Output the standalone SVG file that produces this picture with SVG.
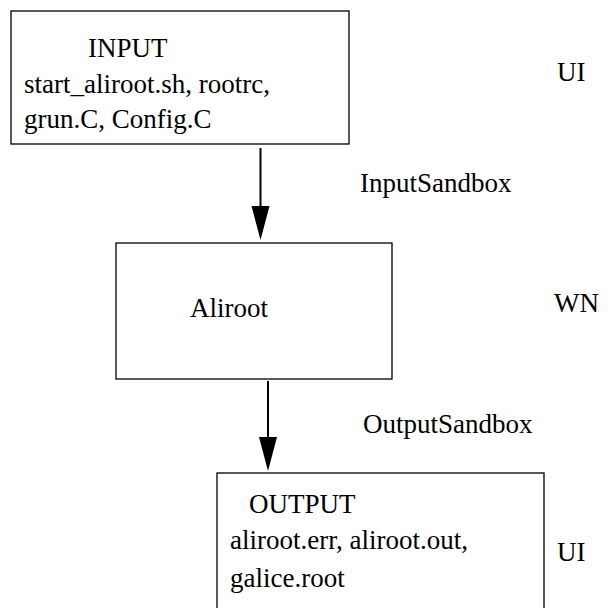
<svg xmlns="http://www.w3.org/2000/svg" width="610" height="608" viewBox="0 0 610 608" font-family="'Liberation Serif', 'Times New Roman', serif" font-size="27">
<defs>
<style>
.box{fill:#fff;stroke:#000;stroke-width:1.3}
text{font-family:'Liberation Serif','Times New Roman',serif;font-size:27px;fill:#000}
.conn{stroke:#000;stroke-width:2;fill:none}
.head{fill:#000}
</style>
</defs>
<rect width="610" height="608" fill="#fff"/>
<g id="input">
<rect class="box" x="11" y="11" width="338" height="133"/>
<text x="88" y="57">INPUT</text>
<text x="24" y="93">start_aliroot.sh, rootrc,</text>
<text x="24" y="128">grun.C, Config.C</text>
</g>
<g id="aliroot">
<rect class="box" x="116" y="243" width="276" height="136"/>
<text x="190" y="317">Aliroot</text>
</g>
<g id="output">
<rect class="box" x="217" y="473" width="327" height="160"/>
<text x="249" y="513">OUTPUT</text>
<text x="230" y="549">aliroot.err, aliroot.out,</text>
<text x="230" y="587">galice.root</text>
</g>
<g id="labels">
<text x="557" y="81">UI</text>
<text x="554" y="312">WN</text>
<text x="557" y="561">UI</text>
</g>
<g id="connectors">
<line class="conn" x1="260.5" y1="148" x2="260.5" y2="206"/>
<path class="head" d="M251.5,206 L269.5,206 L260.5,240 Z"/>
<text x="360" y="192">InputSandbox</text>
<line class="conn" x1="268" y1="381" x2="268" y2="437"/>
<path class="head" d="M259,437 L277,437 L268,471 Z"/>
<text x="363" y="433">OutputSandbox</text>
</g>
</svg>
